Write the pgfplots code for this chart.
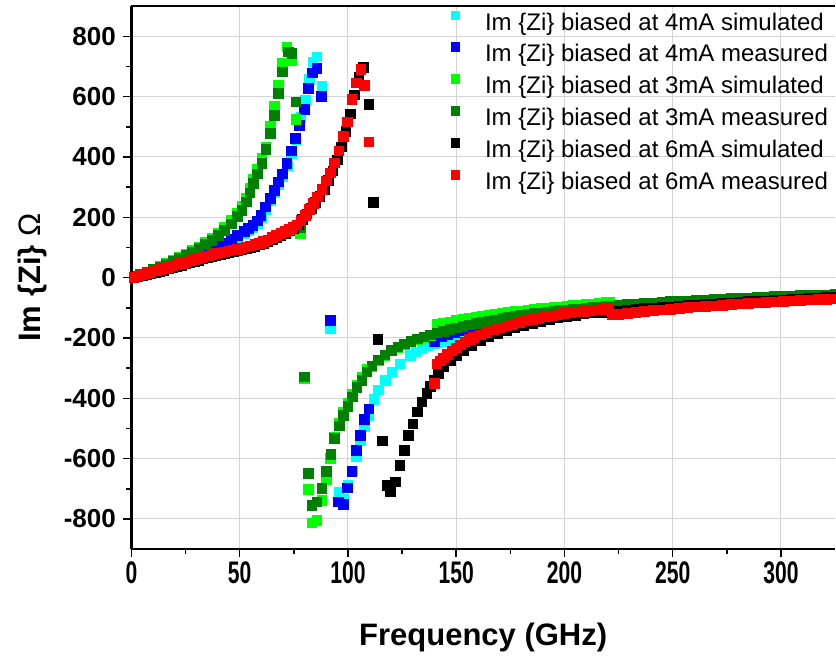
\documentclass[border=0pt]{standalone}
\usepackage{fontspec}
\setmainfont{Liberation Sans}
\usepackage{pgfplots}
\pgfplotsset{compat=1.18}
\usetikzlibrary{calc}
\definecolor{simcyan}{RGB}{0,255,255}
\definecolor{measblue}{RGB}{0,0,255}
\definecolor{simgreen}{RGB}{0,255,0}
\definecolor{measgreen}{RGB}{0,128,0}
\definecolor{measred}{RGB}{255,0,0}
\definecolor{gridgray}{RGB}{212,212,212}
\begin{document}
\begin{tikzpicture}
\begin{axis}[
  scale only axis, width=703.6pt, height=543pt,
  xmin=0, xmax=325, ymin=-900, ymax=900,
  axis x line*=box, axis y line*=left,
  axis line style={line width=2.4pt, black},
  xtick={0,50,...,300}, ytick={-800,-600,...,800},
  minor x tick num=1, minor y tick num=1,
  xtick pos=bottom, ytick pos=left,
  tick align=outside,
  major tick length=8pt, minor tick length=5pt,
  every tick/.style={line width=1.5pt, black},
  grid=major, major grid style={gridgray, line width=1pt},
  /pgf/number format/assume math mode=true,
  ticklabel style={font=\bfseries\fontsize{26}{26}\selectfont},
  xticklabel={\scalebox{0.88}[1.3]{\pgfmathprintnumber{\tick}}},
  xticklabel style={yshift=-1pt, font=\bfseries\fontsize{24}{24}\selectfont},
  yticklabel style={xshift=-4pt},
  xlabel={Frequency (GHz)},
  ylabel={\textbf{Im \{Zi\}} Ω},
  every axis x label/.style={at={(rel axis cs:0.5,0)}, anchor=base, yshift=-96pt, font=\bfseries\fontsize{31}{31}\selectfont},
  every axis y label/.style={at={(rel axis cs:0,0.5)}, xshift=-99pt, rotate=90, anchor=center, font=\fontsize{31}{31}\selectfont},
  legend style={at={(rel axis cs:0.4536,1)}, anchor=north west, yshift=-4.5pt, draw=none, fill=none, inner sep=0pt, row sep=7.6pt, font=\fontsize{24}{24}\selectfont, nodes={inner sep=0pt, text height=18pt, text depth=5pt}, /tikz/every odd column/.append style={column sep=25.7pt}},
  legend cell align=left,
  legend image code/.code={\draw[#1, mark size=4.3pt] plot coordinates {(0pt,8.5pt)};},
  every axis plot/.append style={only marks, mark=square*, mark size=4.8pt},
]
% 4mA simulated (cyan)
\addplot[color=simcyan] coordinates {
(1,1)(4,6)(7,10)(10,16)(13,23)(16,30)(19,37)(22,44)(25,52)(28,60)(31,69)(34,78)(37,88)(40,98)(43,109)(46,121)(49,134)(52,147)(54,157)(56,168)(58,181)(59.9,200)(61.9,227)(64.2,255)(66.1,282)(68.1,310)(69.9,337)(71.9,371)(73.9,413)(75.9,457)(78.2,532)(80.2,589)(82.0,657)(83.7,716)(85.6,732)(87.9,635)
(91.7,-168)(95.8,-712)(97.9,-733)(99.9,-688)(101.9,-640)(103.7,-594)(105.6,-539)(107.4,-492)(109.7,-456)(112,-404)(114,-371)(117.1,-340)(120.2,-312)(124,-285)(128.7,-257)(131.3,-245)(134,-235)(136.7,-226)(139.5,-218)
(142,-215)(145,-211)(148,-206)(151,-200)(154,-194)(157,-188)(160,-182)(164,-175)(168,-168)(172,-161)(176,-155)(180,-149)(185,-142)(190,-136)(195,-130)(200,-125)(205,-120)(210,-116)(215,-112)(220,-108)
};
\addlegendentry{Im \{Zi\} biased at 4mA simulated}
% 4mA measured (blue)
\addplot[color=measblue] coordinates {
(1,2)(4,9)(7,15)(10,22)(13,29)(16,36)(19,43)(22,50)(25,58)(28,66)(31,75)(34,84)(37,94)(40,104)(43,115)(46,127)(49,140)(52,153)(54,163)(56,174)(58,188)(59.7,207)(61.7,235)(64,263)(65.9,290)(67.9,318)(69.7,345)(71.7,379)(73.7,420)(75.7,462)(77.6,506)(79.7,558)(81.7,627)(83.6,679)(85.6,694)(87.6,602)
(91.7,-141)(95.6,-743)(97.9,-751)(99.7,-696)(101.7,-641)(103.7,-572)(105.6,-522)(107.4,-470)(109.7,-434)
(139.8,-211)(143,-195)(146,-187)(149,-181)(152,-175)(155,-169)(158,-163)(161,-158)(165,-152)(170,-146)(175,-140)(180,-135)(185,-130)(190,-125)(195,-121)(200,-117)(205,-113)(210,-109)(215,-106)(220,-103)
};
\addlegendentry{Im \{Zi\} biased at 4mA measured}
% 3mA simulated (light green)
\addplot[color=simgreen] coordinates {
(1,3)(4,12)(7,20)(10,29)(13,38)(16,48)(19,58)(22,68)(25,79)(28,91)(31,103)(34,117)(37,132)(40,149)(43,168)(46,190)(49,215)(51,237)(53,265)(54.7,296)(56.3,328)(58.2,360)(60.2,395)(62.0,434)(64.0,502)(65.9,569)(67.9,638)(69.7,710)(71.7,765)(74.0,721)(75.9,526)(77.9,147)
(79.7,-335)(81.7,-702)(83.3,-813)(85.6,-804)(87.9,-738)(89.9,-669)(91.7,-599)(93.7,-527)(95.9,-482)(97.9,-447)(99.9,-417)(102,-386)(104.1,-356)(106.4,-331)(108.7,-304)(111,-294)(114,-274)(117,-257)(120,-242)(123,-231)(126,-221)(129,-212)(132,-205)(135,-198)(138,-191)
(141,-155)(144,-150)(147,-146)(150,-142)(153,-138)(156,-134)(159,-130)(162,-127)(165,-124)(168,-121)(171,-118)(174,-115)(177,-112)(180,-110)(183,-107)(186,-105)(189,-102)(192,-100)(195,-98)(198,-96)(201,-94)(204,-92)(207,-90)(210,-88)(213,-86)(216,-84)(219,-82)(221,-80)
};
\addlegendentry{Im \{Zi\} biased at 3mA simulated}
% 3mA measured (dark green)
\addplot[color=measgreen] coordinates {
(1,3)(4,11)(7,19)(10,27)(13,36)(16,45)(19,54)(22,64)(25,74)(28,85)(31,97)(34,110)(37,124)(40,140)(43,158)(46,179)(49,203)(51,224)(53,252)(54.7,282)(56.3,312)(58.2,345)(60.2,379)(62.0,426)(64.0,478)(65.9,539)(67.9,611)(69.7,682)(72.5,749)(74.0,743)(75.9,583)(77.9,168)
(79.7,-329)(81.7,-649)(83.3,-754)(85.6,-743)(87.9,-699)(89.9,-641)(92.1,-585)(93.7,-533)(95.9,-491)(97.9,-456)(99.9,-426)(102,-395)(104.1,-364)(106.4,-340)(108.7,-312)(111,-292)(114,-272)(117,-255)(120,-240)(123,-229)(126,-219)(129,-210)(132,-203)(135,-196)(138,-189)(141,-183)(144,-177)(147,-171)(150,-166)(153,-161)(156,-156)(159,-151)(162,-147)(165,-143)(168,-139)(171,-135)(174,-132)(177,-128)(180,-125)(183,-122)(186,-119)(189,-116)(192,-114)(195,-111)(198,-109)(201,-107)(204,-105)(207,-103)(210,-101)(213,-99)(216,-97)(219,-95)(222,-93)
(225,-91)(229,-89)(233,-87)(237,-85)(241,-83)(245,-81)(249,-79)(253,-77)(257,-76)(261,-74)(265,-73)(269,-71)(273,-70)(277,-68)(281,-67)(285,-66)(289,-64)(293,-63)(297,-62)(301,-61)(305,-60)(309,-59)(313,-58)(317,-57)(321,-57)(325,-56)
};
\addlegendentry{Im \{Zi\} biased at 3mA measured}
% 6mA simulated (black)
\addplot[color=black] coordinates {
(1,1)(3,4)(5,7)(7,10)(9,13)(11,17)(13,21)(15,25)(17,29)(19,33)(21,37)(23,42)(25,46)(27,50)(29,54)(31,58)(33,62)(35,66)(37,70)(39,74)(41,77)(43,80)(45,83)(47,86)(49,89)(51,92)(53,96)(55,100)(57,104)(59,109)(61,114)(63,120)(65,127)(67,134)(69,141)(71,148)(73,155)(75,163)(77,175)(79,193)(81,212)(83,230)(85,249)(87,270)(89,294)(91,322)(93,354)(95,391)(97,434)(99,485)(101,543)(103,606)(105,665)(107.1,697)(109.7,575)(111.7,250)
(113.8,-205)(115.9,-540)(117.9,-688)(119.6,-710)(121.8,-677)(124,-622)(125.9,-572)(127.9,-522)(129.9,-484)(132,-445)(134,-412)(136.4,-384)(137.9,-360)(139.9,-340)(141.8,-318)(144,-296)(147.2,-274)(150.3,-257)(153.3,-240)(157,-224)(161,-209)(165,-196)(169,-185)(173,-175)(177,-166)(181,-158)(185,-151)(189,-145)(193,-139)(197,-133)(201,-128)(205,-124)(209,-120)(213,-117)(217,-114)(221,-112)
(225,-110)(229,-107)(233,-105)(237,-102)(241,-100)(245,-98)(249,-96)(253,-94)(257,-92)(261,-90)(265,-88)(269,-86)(273,-84)(277,-83)(281,-81)(285,-79)(289,-78)(293,-76)(297,-75)(301,-73)(305,-71)(309,-70)(313,-68)(317,-66)(321,-65)(325,-63)
};
\addlegendentry{Im \{Zi\} biased at 6mA simulated}
% 6mA measured (red)
\addplot[color=measred] coordinates {
(1,2)(3,6)(5,10)(7,14)(9,18)(11,23)(13,27)(15,31)(17,35)(19,39)(21,43)(23,48)(25,52)(27,56)(29,60)(31,64)(33,68)(35,72)(37,76)(39,80)(41,83)(43,86)(45,89)(47,92)(49,95)(51,98)(53,102)(55,106)(57,110)(59,115)(61,120)(63,126)(65,133)(67,140)(69,147)(71,154)(73,161)(74.5,167)(76.3,176)(78.2,191)(80.2,207)(82.2,226)(84,246)(85.9,268)(87.9,293)(89.9,321)(91.7,348)(93.7,381)(95.7,420)(97.9,469)(99.7,517)(101.7,591)(103.7,646)(105.9,690)(107.6,638)(109.7,450)
(139.8,-351)(141,-285)(142.5,-275)(144,-265)(146,-253)(148,-242)(150,-232)(152,-222)(154,-213)(156,-205)(158,-198)(161,-189)(164,-181)(167,-173)(170,-166)(173,-160)(176,-154)(179,-148)(182,-143)(185,-138)(188,-134)(191,-130)(194,-126)(197,-122)(200,-119)(203,-116)(206,-113)(209,-111)(212,-108)(215,-106)(218,-104)(220,-103)
(222,-122)(225,-121)(229,-118)(233,-115)(237,-112)(241,-109)(245,-107)(249,-104)(253,-102)(257,-99)(261,-97)(265,-95)(269,-93)(273,-91)(277,-89)(281,-87)(285,-85)(289,-83)(293,-81)(297,-80)(301,-78)(305,-76)(309,-75)(313,-73)(317,-72)(321,-71)(325,-70)
};
\addlegendentry{Im \{Zi\} biased at 6mA measured}
\end{axis}
\pgfresetboundingbox
\path[use as bounding box] ($(current axis.south west)+(-131.4pt,-106.1pt)$) rectangle ($(current axis.north east)+(1pt,6.1pt)$);
\end{tikzpicture}
\end{document}
